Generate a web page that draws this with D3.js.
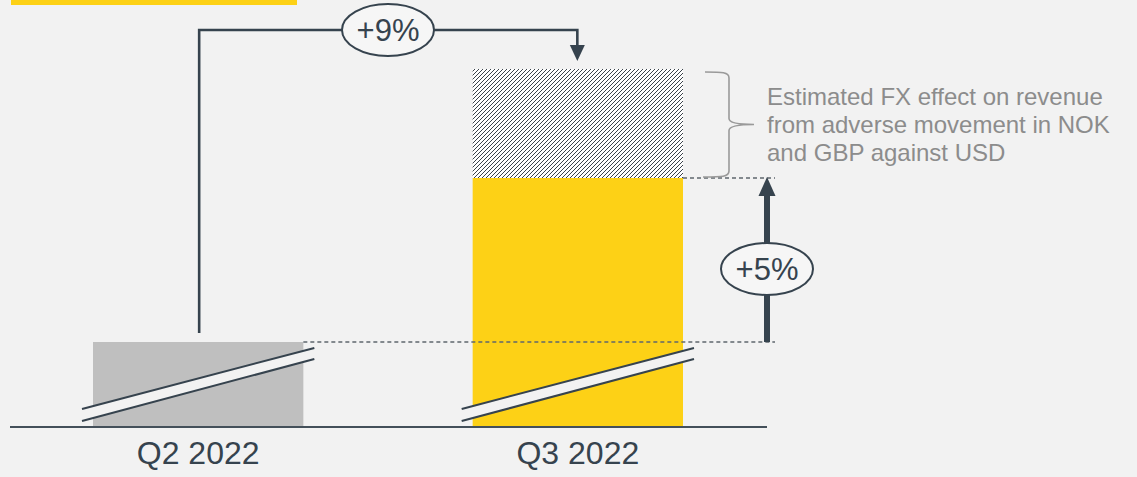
<!DOCTYPE html>
<html>
<head>
<meta charset="utf-8">
<script src="https://cdn.jsdelivr.net/npm/d3@7"></script>
<style>
  html, body { margin: 0; padding: 0; background: #f2f2f2; }
  svg { display: block; font-family: "Liberation Sans", Arial, sans-serif; }
</style>
</head>
<body>
<svg id="chart" width="1137" height="477"></svg>
<script>
// ---- data ----
const categories = ["Q2 2022", "Q3 2022"];
const reportedValues = [100, 105];          // indexed revenue (reported, USD)
const constantCurrencyQ3 = 109;             // revenue at constant currency
const growthLabels = ["+9%", "+5%"];
const noteLines = ["Estimated FX effect on revenue", "from adverse movement in NOK", "and GBP against USD"];

// ---- styles ----
const YELLOW = "#fdd116", GRAY = "#bfbfbf", DARK = "#36434e", BG = "#f2f2f2", NOTE = "#8c8c8c";

const svg = d3.select("#chart");
svg.append("rect").attr("width", 1137).attr("height", 477).attr("fill", BG);

// yellow header stripe (cropped title element)
svg.append("rect").attr("x", 11).attr("y", 0).attr("width", 286).attr("height", 5).attr("fill", YELLOW);

// scales (broken axis -> polylinear)
const x = d3.scaleBand().domain(categories).range([93, 683]).paddingInner(0.446).paddingOuter(0);
const y = d3.scaleLinear().domain([0, 100, 105, 109]).range([426, 342, 178, 69]);
const bw = x.bandwidth();

// hatch pattern
const defs = svg.append("defs");
const pat = defs.append("pattern").attr("id", "hatch").attr("patternUnits", "userSpaceOnUse")
  .attr("width", 4).attr("height", 4);
pat.append("rect").attr("width", 4).attr("height", 4).attr("fill", "#ffffff");
pat.append("path").attr("d", "M-1,1 L1,-1 M0,4 L4,0 M3,5 L5,3")
  .attr("stroke", "#3a424a").attr("stroke-width", 1.0);

// bars
svg.selectAll(".bar").data(categories).enter().append("rect")
  .attr("x", d => x(d)).attr("width", bw)
  .attr("y", (d, i) => y(reportedValues[i]))
  .attr("height", (d, i) => y(0) - y(reportedValues[i]))
  .attr("fill", (d, i) => i === 0 ? GRAY : YELLOW);

// FX effect (hatched)
svg.append("rect").attr("x", x(categories[1])).attr("width", bw)
  .attr("y", y(constantCurrencyQ3)).attr("height", y(reportedValues[1]) - y(constantCurrencyQ3))
  .attr("fill", "url(#hatch)");

// axis break marks
categories.forEach(c => {
  const x0 = x(c) - 11, x1 = x(c) + bw + 11;
  svg.append("path").attr("d", `M${x0},409 L${x1},348 L${x1},359 L${x0},421 Z`).attr("fill", BG);
  svg.append("path").attr("d", `M${x0},409 L${x1},348 M${x0},421 L${x1},359`)
    .attr("stroke", DARK).attr("stroke-width", 2).attr("fill", "none");
});

// baseline axis
const xAxis = d3.axisBottom(x).tickSize(0).tickPadding(14);
const axG = svg.append("g").attr("transform", `translate(0,${y(0) + 1})`).call(xAxis);
axG.select(".domain").remove();
axG.append("line").attr("x1", 10).attr("x2", 767).attr("stroke", "#44505a").attr("stroke-width", 2);
axG.selectAll(".tick text").attr("font-size", 32).attr("fill", DARK)
  .attr("font-family", "'Liberation Sans', Arial, sans-serif").attr("dy", "0.71em");

// dashed reference lines
const arrowX = 767;
svg.append("line").attr("x1", x(categories[0]) + bw).attr("x2", 775)
  .attr("y1", y(reportedValues[0])).attr("y2", y(reportedValues[0]))
  .attr("stroke", "#5f676e").attr("stroke-width", 1.5).attr("stroke-dasharray", "4,3");
svg.append("line").attr("x1", x(categories[1]) + bw).attr("x2", 775)
  .attr("y1", y(reportedValues[1])).attr("y2", y(reportedValues[1]))
  .attr("stroke", "#5f676e").attr("stroke-width", 1.5).attr("stroke-dasharray", "4,3");

// +9% connector
const q2c = x(categories[0]) + bw / 2 + 1, q3c = x(categories[1]) + bw / 2 - 0.5;
const topY = 30;
svg.append("path").attr("d", `M${q2c},333 L${q2c},${topY} L${q3c},${topY} L${q3c},46`)
  .attr("fill", "none").attr("stroke", DARK).attr("stroke-width", 2.6);
svg.append("path").attr("d", `M${q3c - 7.5},45 L${q3c + 7.5},45 L${q3c},${y(constantCurrencyQ3) - 8} Z`).attr("fill", DARK);

// +5% arrow
svg.append("rect").attr("x", arrowX - 3).attr("width", 6)
  .attr("y", y(reportedValues[1]) + 15).attr("height", y(reportedValues[0]) - y(reportedValues[1]) - 15)
  .attr("fill", DARK);
svg.append("path").attr("d", `M${arrowX - 8.5},${y(reportedValues[1]) + 18} L${arrowX + 8.5},${y(reportedValues[1]) + 18} L${arrowX},${y(reportedValues[1]) - 1} Z`).attr("fill", DARK);

// ellipses with labels
const bubbles = [{cx: 388, cy: 30, t: growthLabels[0]}, {cx: arrowX, cy: 269, t: growthLabels[1]}];
bubbles.forEach(b => {
  svg.append("ellipse").attr("cx", b.cx).attr("cy", b.cy).attr("rx", 46).attr("ry", 26)
    .attr("fill", "#f6f6f6").attr("stroke", DARK).attr("stroke-width", 2);
  svg.append("text").attr("x", b.cx).attr("y", b.cy).attr("dy", "0.36em")
    .attr("text-anchor", "middle").attr("font-size", 31).attr("fill", DARK).text(b.t);
});

// brace
const by0 = y(constantCurrencyQ3) + 3, by1 = y(reportedValues[1]) - 1, bm = (by0 + by1) / 2;
svg.append("path")
  .attr("d", `M705,${by0} C722,${by0} 729,${by0} 729,${by0 + 6} L729,${bm - 6} C729,${bm - 1} 740,${bm} 754,${bm} C740,${bm} 729,${bm + 1} 729,${bm + 6} L729,${by1 - 6} C729,${by1} 722,${by1} 703,${by1}`)
  .attr("fill", "none").attr("stroke", "#9a9a9a").attr("stroke-width", 1.6);

// note text
const note = svg.append("text").attr("x", 767).attr("y", 105).attr("font-size", 24).attr("fill", NOTE);
noteLines.forEach((l, i) => note.append("tspan").attr("x", 767).attr("dy", i === 0 ? 0 : 28).text(l));
</script>
</body>
</html>
